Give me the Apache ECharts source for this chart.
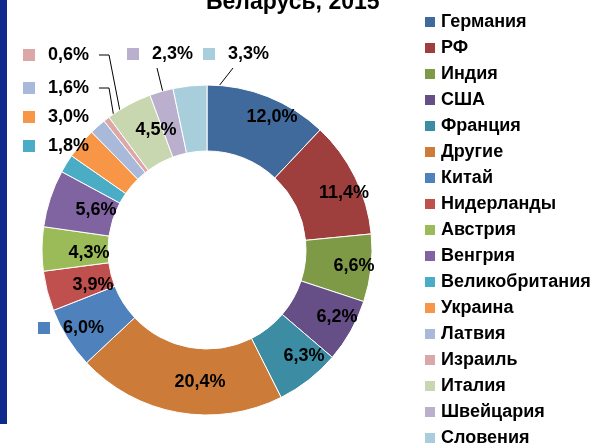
<!DOCTYPE html>
<html><head><meta charset="utf-8">
<script src="https://cdn.jsdelivr.net/npm/echarts@6/dist/echarts.min.js"></script>
<style>html,body{margin:0;padding:0;background:#fff}#c{width:596px;height:447px}</style>
</head><body><div id="c"></div>
<script>
const titleText = 'Беларусь, 2015';
const countries = ['Германия','РФ','Индия','США','Франция','Другие','Китай','Нидерланды','Австрия','Венгрия','Великобритания','Украина','Латвия','Израиль','Италия','Швейцария','Словения'];
const shares = [12.0, 11.4, 6.6, 6.2, 6.3, 20.4, 6.0, 3.9, 4.3, 5.6, 1.8, 3.0, 1.6, 0.6, 4.5, 2.3, 3.3];
const colors = ['#416A9C','#9F3F3D','#7F9A47','#664E87','#3C8DA3','#CC7B38','#4F81BD','#C0504D','#9BBB59','#8064A2','#4BACC6','#F79646','#A9B9D9','#DBA8A7','#C8D7B0','#BAAFCD','#A8CEDC'];

// label placement (layout only)
const FONT = "'Liberation Sans', Arial, sans-serif";
const CX = 207, CY = 250, R0 = 99, R1 = 165;
const spots = {
  0:{cx:272,cy:117}, 1:{cx:344,cy:193}, 2:{cx:354,cy:266}, 3:{cx:337,cy:317},
  4:{cx:304,cy:356}, 5:{cx:200,cy:382}, 6:{left:38,cy:328,key:true},
  7:{cx:93,cy:285}, 8:{cx:89,cy:253}, 9:{cx:96,cy:210},
  10:{left:23,cy:146,key:true,out:true}, 11:{left:23,cy:117,key:true,out:true},
  12:{left:23,cy:88,key:true,out:true,line:'side'}, 13:{left:23,cy:55,key:true,out:true,line:'side'},
  14:{cx:156,cy:130}, 15:{left:127,cy:54,key:true,out:true,line:'down'}, 16:{left:203,cy:54,key:true,out:true,line:'down'}
};

const total = shares.reduce((a,b)=>a+b,0);
function ringPoint(i){
  let c = 0; for (let k=0;k<i;k++) c += shares[k];
  const a = (c + shares[i]/2) / total * Math.PI * 2;
  const r = (R0 + R1) / 2;
  return [CX + r*Math.sin(a), CY - r*Math.cos(a)];
}

const rich = { t:{fontSize:18,fontWeight:'bold',color:'#000',fontFamily:FONT,verticalAlign:'middle'},
               tk:{fontSize:18,fontWeight:'bold',color:'#000',fontFamily:FONT,padding:[0,0,0,13],verticalAlign:'middle'} };
colors.forEach((c,i)=>{ rich['k'+i] = {width:12,height:12,backgroundColor:c,verticalAlign:'middle'}; });

const data = countries.map((n,i)=>{
  const s = spots[i];
  const d = {name:n, value:shares[i], itemStyle:{color:colors[i]}};
  d.label = {position: s.out ? 'outside' : 'inside'};
  d.labelLine = {show: !!s.line};
  return d;
});

const chart = echarts.init(document.getElementById('c'), null, {renderer:'canvas'});
chart.setOption({
  animation:false,
  backgroundColor:'#fff',
  title:{text:titleText, left:206, top:-9, padding:0, textStyle:{fontSize:23,fontWeight:'bold',color:'#000',fontFamily:FONT}},
  graphic:[{type:'rect', left:0, top:0, shape:{width:7,height:424}, style:{fill:'#10298C'}, silent:true}],
  legend:{type:'plain', orient:'vertical', left:423, top:13, height:470, padding:0, itemWidth:12, itemHeight:12, itemGap:8, icon:'rect', selectedMode:false,
    textStyle:{fontSize:18,fontWeight:'bold',color:'#000',fontFamily:FONT,lineHeight:18}, data:countries},
  series:[{
    type:'pie', center:[CX,CY], radius:[R0,R1], startAngle:90, clockwise:true,
    avoidLabelOverlap:false, data:data,
    itemStyle:{borderColor:'#fff', borderWidth:1},
    label:{show:true, rich:rich,
      formatter:(p)=>{
        const txt = p.value.toFixed(1).replace('.', ',') + '%';
        return spots[p.dataIndex].key ? `{k${p.dataIndex}|}{tk|${txt}}` : `{t|${txt}}`;
      }},
    labelLine:{lineStyle:{color:'#000',width:1}},
    labelLayout:(params)=>{
      const s = spots[params.dataIndex];
      const r = params.labelRect;
      if (s.cx != null) return {x:s.cx, y:s.cy, align:'center', verticalAlign:'middle'};
      const o = {x:s.left, y:s.cy, align:'left', verticalAlign:'middle'};
      if (s.line) {
        const ring = ringPoint(params.dataIndex);
        if (s.line === 'side') {
          const x0 = s.left + r.width + 10;
          o.labelLinePoints = [[x0,s.cy],[x0+10,s.cy],ring];
        } else {
          const x0 = s.left + 30, y0 = s.cy + r.height/2 + 5;
          o.labelLinePoints = [[x0,y0],[x0,y0],ring];
        }
      }
      return o;
    }
  }]
});
</script></body></html>
